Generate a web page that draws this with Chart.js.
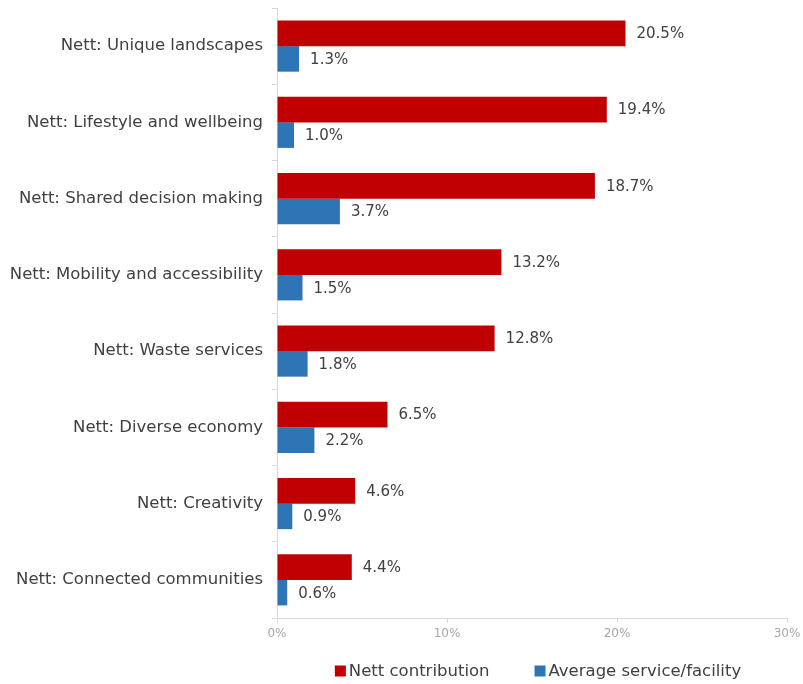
<!DOCTYPE html>
<html>
<head>
<meta charset="utf-8">
<script src="https://cdn.jsdelivr.net/npm/chart.js@4"></script>
<style>
  html, body { margin: 0; padding: 0; background: #ffffff; }
  #wrap { width: 803px; height: 684px; position: relative; }
</style>
</head>
<body>
<div id="wrap"><canvas id="chart"></canvas></div>
<script>
const categories = [
  'Nett: Unique landscapes',
  'Nett: Lifestyle and wellbeing',
  'Nett: Shared decision making',
  'Nett: Mobility and accessibility',
  'Nett: Waste services',
  'Nett: Diverse economy',
  'Nett: Creativity',
  'Nett: Connected communities'
];
const nettContribution = [20.5, 19.4, 18.7, 13.2, 12.8, 6.5, 4.6, 4.4];
const averageService = [1.3, 1.0, 3.7, 1.5, 1.8, 2.2, 0.9, 0.6];
const xTicks = [0, 10, 20, 30];

const FONT = 'DejaVu Sans, sans-serif';

// Writes each bar's value just past its end
const valueLabels = {
  id: 'valueLabels',
  afterDatasetsDraw(chart) {
    const ctx = chart.ctx;
    ctx.save();
    ctx.font = '15px ' + FONT;
    ctx.fillStyle = '#404040';
    ctx.textAlign = 'left';
    ctx.textBaseline = 'middle';
    chart.data.datasets.forEach((ds, i) => {
      chart.getDatasetMeta(i).data.forEach((bar, j) => {
        ctx.fillText(ds.data[j].toFixed(1) + '%', bar.x + 11, bar.y + 1);
      });
    });
    ctx.restore();
  }
};

// Legend row under the axis, centred under the plot area
const bottomLegend = {
  id: 'bottomLegend',
  afterDraw(chart) {
    const ctx = chart.ctx;
    const area = chart.chartArea;
    ctx.save();
    ctx.font = '16.5px ' + FONT;
    ctx.textBaseline = 'middle';
    ctx.textAlign = 'left';
    const box = 11, boxGap = 3, itemGap = 45;
    const items = chart.data.datasets.map(ds => ({
      text: ds.label, color: ds.backgroundColor, w: ctx.measureText(ds.label).width
    }));
    const total = items.reduce((s, it) => s + box + boxGap + it.w, 0) + itemGap * (items.length - 1);
    let x = (area.left + area.right) / 2 + 6 - total / 2;
    const y = 671;
    items.forEach(it => {
      ctx.fillStyle = it.color;
      ctx.fillRect(x, y - box / 2, box, box);
      x += box + boxGap;
      ctx.fillStyle = '#404040';
      ctx.fillText(it.text, x, y + 1);
      x += it.w + itemGap;
    });
    ctx.restore();
  }
};

new Chart(document.getElementById('chart'), {
  type: 'bar',
  data: {
    labels: categories,
    datasets: [
      {
        label: 'Nett contribution',
        data: nettContribution,
        backgroundColor: '#C00000',
        categoryPercentage: 0.67,
        barPercentage: 1.0
      },
      {
        label: 'Average service/facility',
        data: averageService,
        backgroundColor: '#2E75B6',
        categoryPercentage: 0.67,
        barPercentage: 1.0
      }
    ]
  },
  options: {
    indexAxis: 'y',
    responsive: true,
    maintainAspectRatio: false,
    animation: false,
    layout: { padding: { top: 8, right: 16, bottom: 40, left: 0 } },
    plugins: {
      legend: { display: false },
      tooltip: { enabled: false }
    },
    scales: {
      x: {
        min: 0,
        max: 30,
        afterBuildTicks(scale) {
          scale.ticks = xTicks.map(v => ({ value: v }));
        },
        afterFit(scale) { scale.height = 26; scale.paddingLeft = 0; scale.paddingRight = 0; },
        ticks: {
          font: { family: FONT, size: 12 },
          color: '#a6a6a6',
          padding: 4,
          callback: v => v + '%'
        },
        grid: {
          drawOnChartArea: false,
          drawTicks: true,
          tickLength: 5,
          color: '#d9d9d9'
        },
        border: { color: '#d9d9d9', width: 1 }
      },
      y: {
        afterFit(scale) { scale.width = 277; scale.paddingTop = 0; scale.paddingBottom = 0; },
        ticks: {
          font: { family: FONT, size: 16.5 },
          color: '#404040',
          padding: 9
        },
        grid: {
          offset: true,
          drawOnChartArea: false,
          drawTicks: true,
          tickLength: 5,
          color: '#d9d9d9'
        },
        border: { color: '#d9d9d9', width: 1 }
      }
    }
  },
  plugins: [valueLabels, bottomLegend]
});
</script>
</body>
</html>
